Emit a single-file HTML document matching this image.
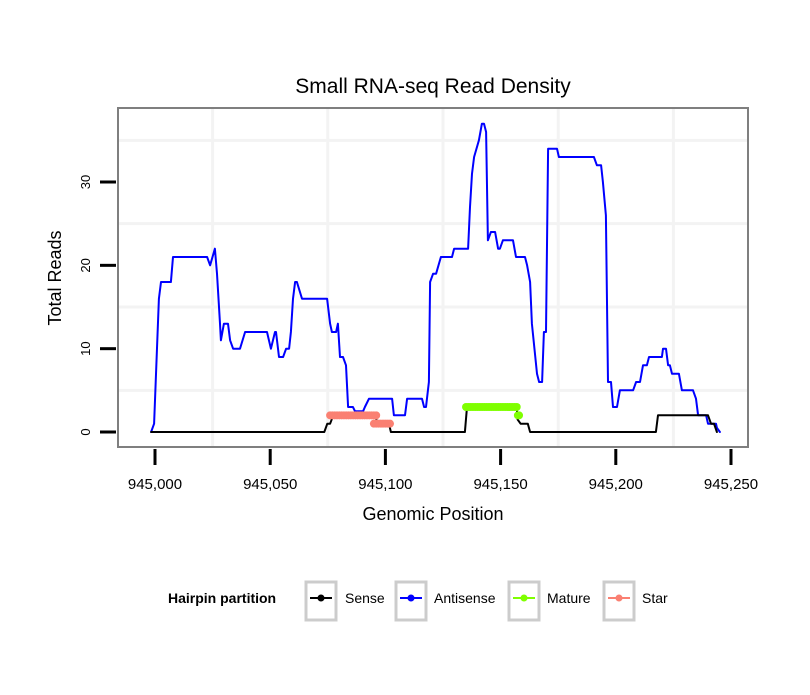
<!DOCTYPE html>
<html><head><meta charset="utf-8"><style>
body{margin:0;background:#fff;}
svg text{font-family:"Liberation Sans",sans-serif;}
</style></head><body>
<svg id="chart" width="810" height="690" xmlns="http://www.w3.org/2000/svg">
<text x="433" y="93" font-size="21" text-anchor="middle">Small RNA-seq Read Density</text>
<rect x="118" y="108" width="630" height="339" fill="#fff"/>
<g id="grid"></g>
<g id="series"></g>
<rect x="118" y="108" width="630" height="339" fill="none" stroke="#7f7f7f" stroke-width="2"/>
<g id="axes"></g>
<text x="433" y="520" font-size="18" text-anchor="middle">Genomic Position</text>
<text transform="translate(61,278) rotate(-90)" font-size="18" text-anchor="middle">Total Reads</text>
<g>
<text x="168" y="603" font-size="14" font-weight="bold">Hairpin partition</text>
<g><rect x="306" y="582" width="30" height="38" fill="none" stroke="#ccc" stroke-width="3"/><line x1="310" y1="598" x2="332" y2="598" stroke="#000" stroke-width="2"/><circle cx="321" cy="598" r="3.5" fill="#000"/><text x="345" y="603" font-size="14">Sense</text></g>
<g><rect x="396" y="582" width="30" height="38" fill="none" stroke="#ccc" stroke-width="3"/><line x1="400" y1="598" x2="422" y2="598" stroke="#00f" stroke-width="2"/><circle cx="411" cy="598" r="3.5" fill="#00f"/><text x="434" y="603" font-size="14">Antisense</text></g>
<g><rect x="509" y="582" width="30" height="38" fill="none" stroke="#ccc" stroke-width="3"/><line x1="513" y1="598" x2="535" y2="598" stroke="#7fff00" stroke-width="2"/><circle cx="524" cy="598" r="3.5" fill="#7fff00"/><text x="547" y="603" font-size="14">Mature</text></g>
<g><rect x="604" y="582" width="30" height="38" fill="none" stroke="#ccc" stroke-width="3"/><line x1="608" y1="598" x2="630" y2="598" stroke="#fa8072" stroke-width="2"/><circle cx="619" cy="598" r="3.5" fill="#fa8072"/><text x="642" y="603" font-size="14">Star</text></g>
</g>
</svg>
<script>
const xTicks=[0,50,100,150,200,250];
const xTickLabels=["945,000","945,050","945,100","945,150","945,200","945,250"];
const yTicks=[0,10,20,30];
const yTickLabels=["0","10","20","30"];
const xGrid=[25,75,125,175,225];
const yGrid=[5,15,25,35];
const antisensePos=[
-1.7,-0.4,1.7,2.6,6.9,7.8,22.6,23.9,26,26.9,
28.2,28.6,29.9,31.7,32.6,33.9,36.9,39.1,48.6,50.3,
52.1,52.5,53.8,55.6,56.9,58.2,59,59.9,60.8,61.6,
63.8,74.7,76,76.8,78.6,79.4,80.3,81.6,82.9,83.8,
85.9,86.8,90.3,91.1,92.9,102.9,103.7,108.5,109.4,115.9,
116.8,117.6,118.9,119.4,120.7,122,124.1,128.9,129.8,135.9,
136.7,137.6,138.5,140.6,141.9,142.8,143.7,144.5,145.8,147.6,
148.9,149.7,151,155.4,156.7,160.6,161.5,162.8,163.6,165.8,
166.7,168,168.8,169.7,170.6,174.5,175.3,190.5,191.8,193.6,
194.4,195.7,196.6,197.9,198.8,200.5,201.8,207.5,208.8,210.5,
211.8,213.5,214.4,220,220.5,221.8,222.7,223.5,224.4,227.4,
228.7,233.5,234.8,235.7,239.2,240,243.5,243.9,245.2];
const antisenseVal=[
0,1,16,18,18,21,21,20,22,19,
13,11,13,13,11,10,10,12,12,10,
12,12,9,9,10,10,12,16,18,18,
16,16,13,12,12,13,9,9,8,3,
3,2.5,2.5,3,4,4,2,2,4,4,
3,3,6,18,19,19,21,21,22,22,
27,31,33,35,37,37,36,23,24,24,
22,22,23,23,21,21,20,18,13,7,
6,6,12,12,34,34,33,33,32,32,
30,26,6,6,3,3,5,5,6,6,
8,8,9,9,10,10,8,8,7,7,
5,5,4,2,2,1,1,0.5,0];
const sensePos=[-1.7,73.5,74.8,76,77.4,95.7,96.5,101.5,102.4,134.5,135.4,157,157.4,158.7,161.8,162.8,217.4,218.3,240,241.3,242.6,243.9];
const senseVal=[0,0,1,1,2,2,1,1,0,0,3,3,1.5,1,1,0,0,2,2,1,1,0];
const starPos=[76,77,78,79,80,81,82,83,84,85,86,87,88,89,90,91,92,93,94,95,96,95,96,97,98,99,100,101,102];
const starVal=[2,2,2,2,2,2,2,2,2,2,2,2,2,2,2,2,2,2,2,2,2,1,1,1,1,1,1,1,1];
const maturePos=[135,136,137,138,139,140,141,142,143,144,145,146,147,148,149,150,151,152,153,154,155,156,157,157.5,158];
const matureVal=[3,3,3,3,3,3,3,3,3,3,3,3,3,3,3,3,3,3,3,3,3,3,3,2,2];

const NS="http://www.w3.org/2000/svg";
const X=v=>155+v*2.304;
const Y=v=>432-v*8.333;
function mk(tag,attrs,parent){const e=document.createElementNS(NS,tag);for(const k in attrs)e.setAttribute(k,attrs[k]);parent.appendChild(e);return e;}
const grid=document.getElementById('grid'),series=document.getElementById('series'),axes=document.getElementById('axes');
xGrid.forEach(v=>{const l=mk('line',{x1:X(v),x2:X(v),y1:109,y2:446,stroke:'#f3f3f3','stroke-width':3},grid);

});
yGrid.forEach(v=>{const l=mk('line',{x1:119,x2:747,y1:Y(v),y2:Y(v),stroke:'#f3f3f3','stroke-width':3},grid);

});
xTicks.forEach((v,i)=>{const l=mk('line',{x1:X(v),x2:X(v),y1:449,y2:465,stroke:'#000','stroke-width':3},axes);


const t=mk('text',{x:X(v),y:489,'font-size':15,'text-anchor':'middle'},axes);t.textContent=xTickLabels[i];

});
yTicks.forEach((v,i)=>{const l=mk('line',{x1:100,x2:116,y1:Y(v),y2:Y(v),stroke:'#000','stroke-width':3},axes);


const t=mk('text',{transform:`translate(90,${Y(v)}) rotate(-90)`,'font-size':13,'text-anchor':'middle'},axes);t.textContent=yTickLabels[i];

});
function path(pos,val){return pos.map((p,i)=>(i?'L':'M')+X(p).toFixed(1)+','+Y(val[i]).toFixed(1)).join('');}
function line(pos,val,color,w,name){const p=mk('path',{d:path(pos,val),fill:'none',stroke:color,'stroke-width':w,'stroke-linejoin':'round','stroke-linecap':'round'},series);

}
function pts(pos,val,color,name){pos.forEach((p,i)=>{const c=mk('circle',{cx:X(p),cy:Y(val[i]),r:4,fill:color},series);

});}
line(antisensePos,antisenseVal,'#0000ff',2,'antisense-line');
line(sensePos,senseVal,'#000',2,'sense-line');
line(starPos.slice(0,21),starVal.slice(0,21),'#fa8072',6,'star-line');
line(starPos.slice(21),starVal.slice(21),'#fa8072',6,'star-line-2');
pts(starPos,starVal,'#fa8072','star-point');
line(maturePos.slice(0,23),matureVal.slice(0,23),'#7fff00',6,'mature-line');
pts(maturePos,matureVal,'#7fff00','mature-point');
</script>
</body></html>
